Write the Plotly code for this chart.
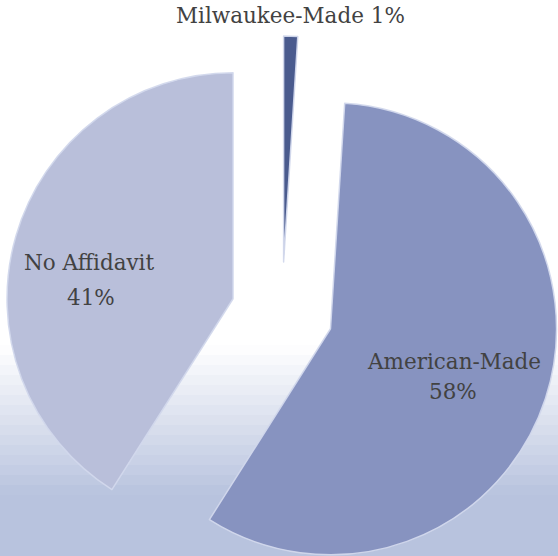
import math
import plotly.graph_objects as go

# ---- data ----
labels = ["Milwaukee-Made", "American-Made", "No Affidavit"]
values = [1, 58, 41]
colors = ["#4a5b8e", "#8793c0", "#b9bfda"]

# ---- layout geometry (pixels) ----
W, H = 558, 556
CX, CY = 282, 313        # centre of the unexploded pie
R = 226                  # pie radius
PULL = 51                # explode distance

# label line centres (pixels): one entry per slice, one (x, y) per text line
label_pos = [
    [(290, 15)],
    [(454, 361), (453, 392)],
    [(89, 263), (91, 297)],
]

FONT = dict(family="DejaVu Serif", size=21.5, color="#424242")

total = sum(values)
fig = go.Figure()

# background gradient (white -> light blue towards the bottom)
top_c = (255, 255, 255)
bot_c = (184, 195, 222)
g0, g1, nb = 345, 495, 15
for k in range(nb):
    y0 = g0 + (g1 - g0) * k / nb
    y1 = g0 + (g1 - g0) * (k + 1) / nb
    t = (k + 0.5) / nb
    c = tuple(round(top_c[j] + (bot_c[j] - top_c[j]) * t) for j in range(3))
    fig.add_shape(type="rect", xref="paper", yref="paper", layer="below",
                  x0=0, x1=1, y0=1 - y1 / H, y1=1 - y0 / H,
                  fillcolor="rgb(%d,%d,%d)" % c, line_width=0)
fig.add_shape(type="rect", xref="paper", yref="paper", layer="below",
              x0=0, x1=1, y0=0, y1=1 - g1 / H,
              fillcolor="rgb(%d,%d,%d)" % bot_c, line_width=0)

cum = 0
for i, (lab, v) in enumerate(zip(labels, values)):
    mid = (cum + v / 2) / total * 2 * math.pi
    cum += v
    ax = CX + PULL * math.sin(mid)
    ay = CY - PULL * math.cos(mid)
    dx = [max(0, (ax - R) / W), min(1, (ax + R) / W)]
    dy = [max(0, 1 - (ay + R) / H), min(1, 1 - (ay - R) / H)]
    cols = ["rgba(0,0,0,0)"] * len(values)
    cols[i] = colors[i]
    lw = [0] * len(values)
    lw[i] = 1.5
    fig.add_trace(go.Pie(
        labels=labels, values=values, sort=False, direction="clockwise",
        rotation=0, domain=dict(x=dx, y=dy),
        marker=dict(colors=cols, line=dict(color="rgba(210,216,236,0.95)", width=lw)),
        textinfo="none", hoverinfo="skip", showlegend=False,
    ))

    pct = "%d%%" % round(100 * v / total)
    lines = ["%s %s" % (lab, pct)] if len(label_pos[i]) == 1 else [lab, pct]
    for txt, (px, py) in zip(lines, label_pos[i]):
        fig.add_annotation(text=txt, x=px / W, y=1 - py / H, xref="paper", yref="paper",
                           xanchor="center", yanchor="middle", showarrow=False, font=FONT)

fig.update_layout(
    width=W, height=H,
    margin=dict(l=0, r=0, t=0, b=0),
    paper_bgcolor="white", plot_bgcolor="white",
    showlegend=False,
)
fig.write_html("out.html", config={"displayModeBar": False},
               post_script="document.body.style.margin='0';document.body.style.overflow='hidden';")
